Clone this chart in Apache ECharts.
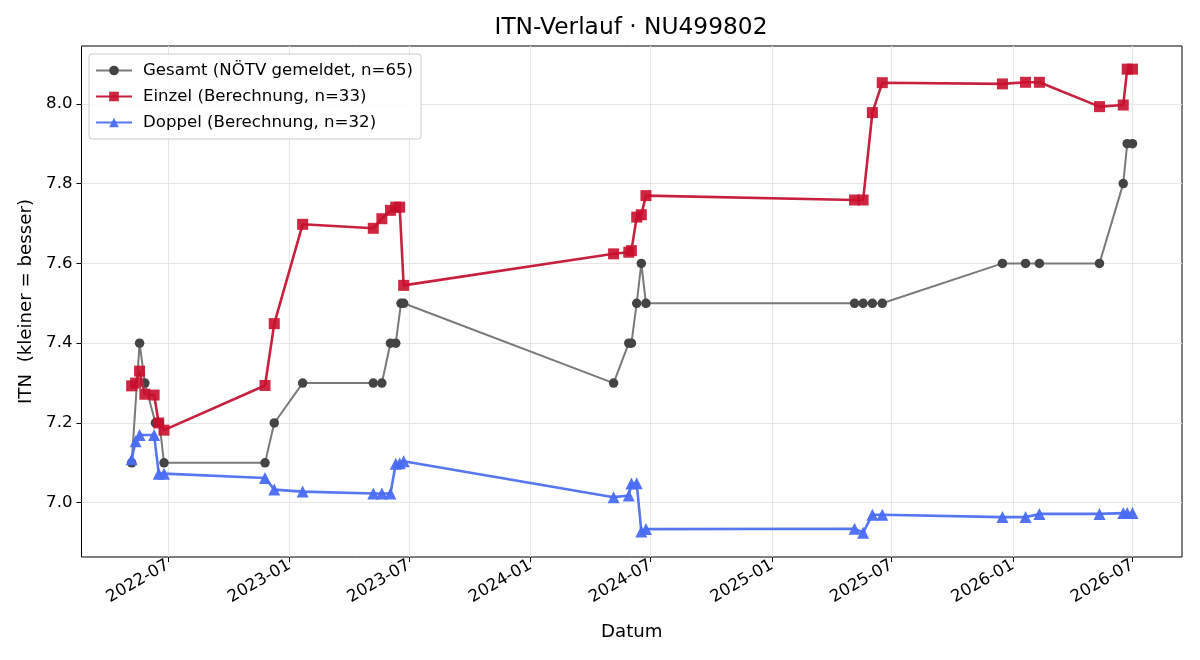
<!DOCTYPE html>
<html>
<head>
<meta charset="utf-8">
<script src="https://cdn.jsdelivr.net/npm/echarts@6/dist/echarts.min.js"></script>
<style>
html,body{margin:0;padding:0;background:#fff;}
#chart{width:1200px;height:660px;}
</style>
</head>
<body>
<div id="chart"></div>
<script>
// ---- data ----
const titleText = 'ITN-Verlauf · NU499802';
const seriesNames = ['Gesamt (NÖTV gemeldet, n=65)', 'Einzel (Berechnung, n=33)', 'Doppel (Berechnung, n=32)'];

const gesamtDates = [
  '2022-05-07','2022-05-19','2022-05-27','2022-06-12','2022-06-18','2022-06-25',
  '2022-11-25','2022-12-09','2023-01-21',
  '2023-05-08','2023-05-21','2023-06-03','2023-06-11','2023-06-19','2023-06-23',
  '2024-05-06','2024-05-29','2024-06-02','2024-06-10','2024-06-17','2024-06-24',
  '2025-05-06','2025-05-19','2025-06-02','2025-06-17',
  '2025-12-16','2026-01-20','2026-02-10','2026-05-12','2026-06-17','2026-06-23','2026-07-01'
];
const gesamtValues = [
  7.1, 7.4, 7.3, 7.2, 7.2, 7.1,
  7.1, 7.2, 7.3,
  7.3, 7.3, 7.4, 7.4, 7.5, 7.5,
  7.3, 7.4, 7.4, 7.5, 7.6, 7.5,
  7.5, 7.5, 7.5, 7.5,
  7.6, 7.6, 7.6, 7.6, 7.8, 7.9, 7.9
];

const einzelDates = [
  '2022-05-07','2022-05-13','2022-05-19','2022-05-27','2022-06-10','2022-06-17','2022-06-25',
  '2022-11-25','2022-12-09',
  '2023-01-21','2023-05-08','2023-05-21','2023-06-03','2023-06-11','2023-06-17','2023-06-23',
  '2024-05-06','2024-05-29','2024-06-02','2024-06-10','2024-06-17','2024-06-24',
  '2025-05-06','2025-05-19','2025-06-02','2025-06-17',
  '2025-12-16','2026-01-20','2026-02-10','2026-05-12','2026-06-17','2026-06-23','2026-07-01'
];
const einzelValues = [
  7.293, 7.300, 7.330, 7.272, 7.270, 7.200, 7.182,
  7.294, 7.449,
  7.698, 7.688, 7.712, 7.733, 7.741, 7.741, 7.545,
  7.624, 7.628, 7.632, 7.716, 7.722, 7.770,
  7.759, 7.759, 7.978, 8.053,
  8.050, 8.054, 8.054, 7.993, 7.997, 8.087, 8.087
];

const doppelDates = [
  '2022-05-07','2022-05-13','2022-05-19','2022-06-10','2022-06-17','2022-06-25',
  '2022-11-25','2022-12-09','2023-01-21',
  '2023-05-08','2023-05-21','2023-06-03','2023-06-11','2023-06-17','2023-06-23',
  '2024-05-06','2024-05-29','2024-06-02','2024-06-10','2024-06-17','2024-06-24',
  '2025-05-06','2025-05-19','2025-06-02','2025-06-17',
  '2025-12-16','2026-01-20','2026-02-10','2026-05-12','2026-06-17','2026-06-23','2026-07-01'
];
const doppelValues = [
  7.109, 7.154, 7.170, 7.170, 7.073, 7.073,
  7.062, 7.033, 7.028,
  7.023, 7.023, 7.023, 7.098, 7.099, 7.104,
  7.014, 7.018, 7.048, 7.049, 6.928, 6.934,
  6.935, 6.925, 6.970, 6.970,
  6.964, 6.964, 6.972, 6.972, 6.974, 6.974, 6.974
];

const xTickLabels = ['2022-07','2023-01','2023-07','2024-01','2024-07','2025-01','2025-07','2026-01','2026-07'];
const yTickValues = [7.0, 7.2, 7.4, 7.6, 7.8, 8.0];
const xRange = ['2022-02-20', '2026-09-14'];
const yRange = [6.864, 8.145];

// ---- helpers ----
function ts(s) {
  const p = s.split('-').map(Number);
  return Date.UTC(p[0], p[1] - 1, p[2] || 1);
}
function pairs(dates, vals) { return dates.map((d, i) => [ts(d), vals[i]]); }
const xTickValues = xTickLabels.map(ts);

const font = 'DejaVu Sans';
const chart = echarts.init(document.getElementById('chart'), null, {renderer: 'canvas'});

chart.setOption({
  animation: false,
  backgroundColor: '#fff',
  graphic: [{
    type: 'text', x: 631, y: 28,
    style: {text: titleText, font: '23.3px "DejaVu Sans"', fill: '#000', textAlign: 'center', textVerticalAlign: 'middle'}
  }],
  grid: {left: 81.5, right: 18, top: 46, bottom: 103, show: true, borderColor: '#000', borderWidth: 1, backgroundColor: 'transparent'},
  legend: {
    orient: 'vertical', left: 89, top: 54,
    padding: [7, 8, 7, 6],
    itemWidth: 36, itemHeight: 12, itemGap: 7,
    backgroundColor: 'rgba(255,255,255,0.85)', borderColor: '#cccccc', borderWidth: 1, borderRadius: 3,
    textStyle: {fontFamily: font, fontSize: 16.6, color: '#000', lineHeight: 19, padding: [0, 0, 0, 6]},
    data: seriesNames
  },
  xAxis: {
    type: 'value',
    min: ts(xRange[0]), max: ts(xRange[1]),
    name: 'Datum', nameLocation: 'middle', nameGap: 66,
    nameTextStyle: {fontFamily: font, fontSize: 18.2, color: '#000'},
    axisLine: {show: false},
    axisTick: {show: true, length: 5, lineStyle: {color: '#000', width: 1}, customValues: xTickValues},
    axisLabel: {
      fontFamily: font, fontSize: 16.6, color: '#000', rotate: 30, margin: 7,
      customValues: xTickValues,
      formatter: function (v) {
        const i = xTickValues.indexOf(v);
        return i >= 0 ? xTickLabels[i] : '';
      }
    },
    splitLine: {show: true, lineStyle: {color: '#e6e6e6', width: 1}}
  },
  yAxis: {
    type: 'value',
    min: yRange[0], max: yRange[1],
    name: 'ITN  (kleiner = besser)', nameLocation: 'middle', nameGap: 46, nameRotate: 90,
    nameTextStyle: {fontFamily: font, fontSize: 18.2, color: '#000'},
    axisLine: {show: false},
    axisTick: {show: true, length: 5, lineStyle: {color: '#000', width: 1}, customValues: yTickValues},
    axisLabel: {
      fontFamily: font, fontSize: 16.6, color: '#000', margin: 9,
      customValues: yTickValues,
      formatter: function (v) { return v.toFixed(1); }
    },
    splitLine: {show: true, lineStyle: {color: '#e6e6e6', width: 1}}
  },
  series: [
    {
      name: seriesNames[0], type: 'line', data: pairs(gesamtDates, gesamtValues),
      symbol: 'circle', symbolSize: 9.5, showAllSymbol: true,
      lineStyle: {color: '#7a7a7a', width: 2},
      itemStyle: {color: '#444444', opacity: 1},
      z: 2
    },
    {
      name: seriesNames[1], type: 'line', data: pairs(einzelDates, einzelValues),
      symbol: 'rect', symbolSize: 11, showAllSymbol: true,
      lineStyle: {color: '#c8203f', width: 2.6},
      itemStyle: {color: 'rgba(200,16,46,0.9)'},
      z: 3
    },
    {
      name: seriesNames[2], type: 'line', data: pairs(doppelDates, doppelValues),
      symbol: 'triangle', symbolSize: 12, showAllSymbol: true,
      lineStyle: {color: '#5676f2', width: 2.6},
      itemStyle: {color: 'rgba(74,108,245,0.95)'},
      z: 4
    }
  ]
});
</script>
</body>
</html>
